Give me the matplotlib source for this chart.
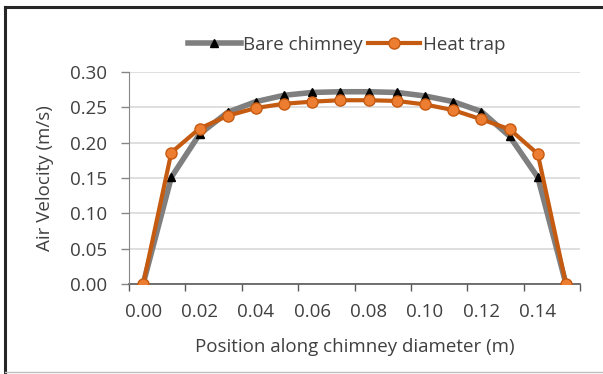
#!/usr/bin/env python
import matplotlib
matplotlib.use('Agg')
from matplotlib import pyplot as plt
from matplotlib.ticker import MultipleLocator, FixedLocator

# position along the diameter (m)
POSITIONS = [0.00, 0.01, 0.02, 0.03, 0.04, 0.05, 0.06, 0.07,
             0.08, 0.09, 0.10, 0.11, 0.12, 0.13, 0.14, 0.15]
BARE_CHIMNEY = [0.000, 0.151, 0.212, 0.243, 0.258, 0.267, 0.271, 0.272,
                0.272, 0.271, 0.266, 0.258, 0.244, 0.209, 0.151, 0.000]
HEAT_TRAP = [0.000, 0.186, 0.220, 0.238, 0.249, 0.255, 0.258, 0.260,
             0.260, 0.259, 0.254, 0.246, 0.233, 0.219, 0.184, 0.000]
X_LABELS = ['0.00', '0.02', '0.04', '0.06', '0.08', '0.10', '0.12', '0.14']
X_LABEL_POS = [0.00, 0.02, 0.04, 0.06, 0.08, 0.10, 0.12, 0.14]
X_TICK_MARKS = [-0.005, 0.015, 0.035, 0.055, 0.075, 0.095, 0.115, 0.135, 0.155]

GREY = '#7f7f7f'
ORANGE = '#c55a11'
ORANGE_FILL = '#ed7d31'
TEXT = '#404040'
FS = 13.5

plt.rcParams['font.family'] = ['Open Sans', 'DejaVu Sans']


def draw_chart():
    fig = plt.figure(figsize=(6.03, 3.74), dpi=100)
    ax = fig.add_axes([0.214, 0.2406, 0.748, 0.567])

    ax.plot(POSITIONS, BARE_CHIMNEY, color=GREY, lw=4, marker='^', ms=6,
            mfc='black', mec='black', label='Bare chimney', zorder=3)
    ax.plot(POSITIONS, HEAT_TRAP, color=ORANGE, lw=3, marker='o', ms=8,
            mfc=ORANGE_FILL, mec=ORANGE, mew=1, label='Heat trap', zorder=4)

    ax.set_xlim(-0.005, 0.155)
    ax.set_ylim(0, 0.30)
    ax.yaxis.set_major_locator(MultipleLocator(0.05))
    ax.yaxis.set_major_formatter(plt.FormatStrFormatter('%.2f'))
    ax.xaxis.set_major_locator(FixedLocator(X_LABEL_POS))
    ax.set_xticklabels(X_LABELS)
    ax.xaxis.set_minor_locator(FixedLocator(X_TICK_MARKS))
    ax.tick_params(axis='x', which='major', length=0, pad=14, labelsize=FS, labelcolor=TEXT)
    ax.tick_params(axis='x', which='minor', length=5, color='#595959', width=1)
    ax.tick_params(axis='y', length=6, color='#868686', width=1, labelsize=FS, labelcolor=TEXT, pad=10)

    ax.grid(axis='y', color='#d9d9d9', lw=1.2)
    ax.set_axisbelow(True)
    for side in ['top', 'right']:
        ax.spines[side].set_visible(False)
    ax.spines['left'].set_color('#868686')
    ax.spines['bottom'].set_color('#595959')
    ax.spines['bottom'].set_linewidth(1.2)
    ax.spines['bottom'].set_zorder(2)

    ax.set_xlabel('Position along chimney diameter (m)', fontsize=FS, color=TEXT, labelpad=12)
    ax.set_ylabel('Air Velocity (m/s)', fontsize=FS, color=TEXT, labelpad=11)

    fig.legend(loc='center', bbox_to_anchor=(0.575, 0.88), ncol=2, frameon=False,
               fontsize=FS, handlelength=2.8, handletextpad=0.15, columnspacing=0.25,
               labelcolor=TEXT)

    # outer frame of the picture
    fig.add_artist(plt.Line2D([5 / 603, 5 / 603], [0, 1 - 7 / 374], color='#262626', lw=2.2,
                              transform=fig.transFigure))
    fig.add_artist(plt.Line2D([5 / 603, 1], [1 - 7 / 374, 1 - 7 / 374], color='#262626', lw=2.2,
                              transform=fig.transFigure))
    fig.add_artist(plt.Line2D([5 / 603, 1], [2 / 374, 2 / 374], color='#bfbfbf', lw=1,
                              transform=fig.transFigure))

    fig.savefig('out.png', dpi=100)


def main():
    draw_chart()


if __name__ == '__main__':
    main()
